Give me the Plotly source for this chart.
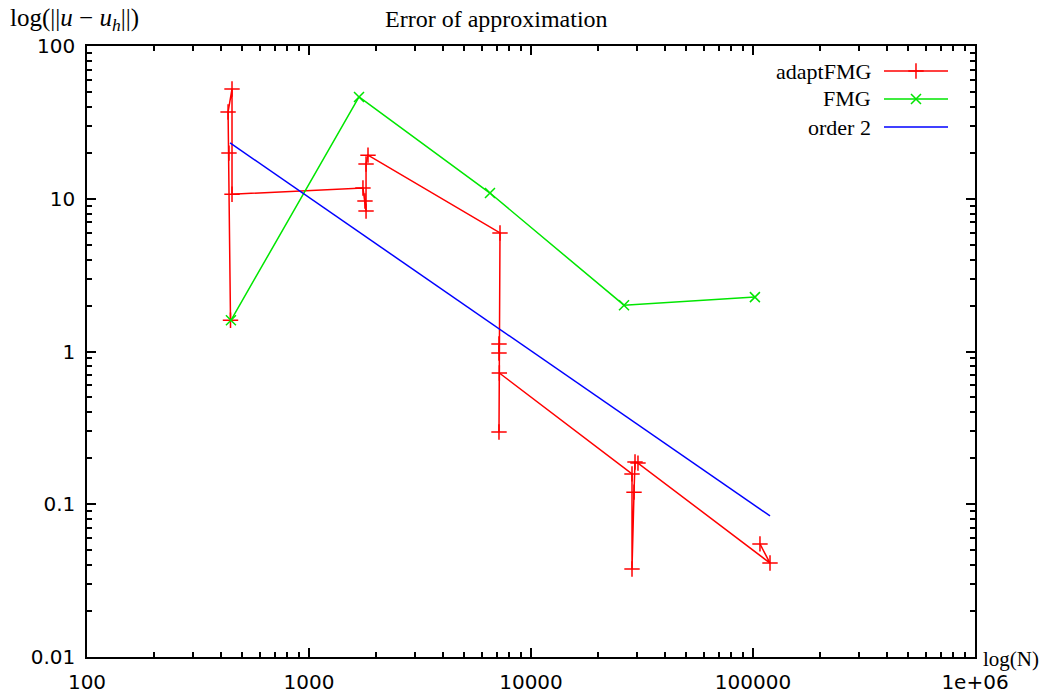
import plotly.graph_objects as go

# ---- data ----
adapt_N = [443, 436, 432, 450, 450, 1750, 1787, 1807, 1807, 1844,
           7250, 7175, 7175, 7175, 7200, 28510, 28510, 29110, 29410, 30330,
           119300, 107500]
adapt_err = [1.6, 19.9, 37.0, 52.3, 10.7, 11.75, 9.67, 8.3, 16.9, 19.3,
             5.97, 0.297, 1.12, 0.977, 0.723, 0.158, 0.0377, 0.120, 0.189, 0.186,
             0.0412, 0.055]
fmg_N = [445, 1680, 6535, 26240, 102000]
fmg_err = [1.6, 46.4, 10.9, 2.01, 2.27]
order2_N = [441, 119300]
order2_err = [23.2, 0.0838]

x_tickvals = [100, 1000, 10000, 100000, 1000000]
x_ticktext = ["100", "1000", "10000", "100000", "1e+06"]
y_tickvals = [0.01, 0.1, 1, 10, 100]
y_ticktext = ["0.01", "0.1", "1", "10", "100"]

series_names = ["adaptFMG", "FMG", "order 2"]

RED = "#ff0000"
GREEN = "#00e600"
BLUE = "#0000ff"
SERIF = "Liberation Serif"
SANS = "DejaVu Sans"

minor_x = [m * 10 ** e for e in range(2, 6) for m in range(2, 10)]
minor_y = [m * 10.0 ** e for e in range(-2, 2) for m in range(2, 10)]

fig = go.Figure()
fig.add_trace(go.Scatter(x=adapt_N, y=adapt_err, mode="lines+markers",
                         line=dict(color=RED, width=1.5),
                         marker=dict(symbol="cross-thin", size=11, line=dict(color=RED, width=1.5)),
                         showlegend=False))
fig.add_trace(go.Scatter(x=fmg_N, y=fmg_err, mode="lines+markers",
                         line=dict(color=GREEN, width=1.5),
                         marker=dict(symbol="x-thin", size=10, line=dict(color=GREEN, width=1.5)),
                         showlegend=False))
fig.add_trace(go.Scatter(x=order2_N, y=order2_err, mode="lines",
                         line=dict(color=BLUE, width=1.5), showlegend=False))

# legend samples drawn on an overlay axis (gnuplot-style key: text left, sample right)
leg_y = [0.959, 0.9133, 0.8674]
leg_x0, leg_x1 = 0.8975, 0.9696
styles = [(RED, "cross-thin", 11), (GREEN, "x-thin", 10), (BLUE, None, 0)]
for name, yy, (col, sym, sz) in zip(series_names, leg_y, styles):
    fig.add_trace(go.Scatter(x=[leg_x0, leg_x1], y=[yy, yy], mode="lines",
                             line=dict(color=col, width=1.5), xaxis="x2", yaxis="y2",
                             showlegend=False, hoverinfo="skip"))
    if sym:
        fig.add_trace(go.Scatter(x=[(leg_x0 + leg_x1) / 2], y=[yy], mode="markers",
                                 marker=dict(symbol=sym, size=sz, line=dict(color=col, width=1.5)),
                                 xaxis="x2", yaxis="y2", showlegend=False, hoverinfo="skip"))
    fig.add_annotation(x=0.885, y=yy, xref="paper", yref="paper", text=name,
                       showarrow=False, xanchor="right", yanchor="middle",
                       font=dict(family=SERIF, size=22, color="black"))

axis_common = dict(type="log", showgrid=False, zeroline=False, showline=True,
                   linecolor="black", linewidth=1.5, mirror="allticks",
                   ticks="inside", ticklen=9, tickwidth=1.5, tickcolor="black",
                   automargin=False,
                   tickfont=dict(family=SANS, size=20, color="black"))

# the page adds an 8px body margin, so the figure is sized/positioned to compensate
fig.update_layout(
    width=1039, height=689,
    margin=dict(l=79, r=72, t=38, b=40),
    plot_bgcolor="white", paper_bgcolor="white",
    xaxis=dict(range=[2, 6], tickvals=x_tickvals, ticktext=x_ticktext,
               ticklabelstandoff=6,
               minor=dict(ticks="inside", ticklen=5, tickwidth=1.5, tickcolor="black",
                          tickvals=minor_x, showgrid=False),
               **axis_common),
    yaxis=dict(range=[-2, 2], tickvals=y_tickvals, ticktext=y_ticktext,
               ticklabelstandoff=6,
               minor=dict(ticks="inside", ticklen=5, tickwidth=1.5, tickcolor="black",
                          tickvals=minor_y, showgrid=False),
               **axis_common),
    xaxis2=dict(range=[0, 1], overlaying="x", visible=False, fixedrange=True),
    yaxis2=dict(range=[0, 1], overlaying="y", visible=False, fixedrange=True),
    showlegend=False,
)

fig.add_annotation(x=0.4617, y=1.0, xref="paper", yref="paper", yshift=27,
                   text="Error of approximation", showarrow=False,
                   xanchor="center", yanchor="middle",
                   font=dict(family=SERIF, size=24, color="black"))
fig.add_annotation(x=-0.089, y=1.0, xref="paper", yref="paper", yshift=27,
                   text="log(||<i>u</i> − <i>u</i><sub><i>h</i></sub>||)", showarrow=False,
                   xanchor="left", yanchor="middle",
                   font=dict(family=SERIF, size=25, color="black"))
fig.add_annotation(x=1.007, y=0.0, xref="paper", yref="paper", yshift=-2,
                   text="log(N)", showarrow=False,
                   xanchor="left", yanchor="middle",
                   font=dict(family=SERIF, size=21, color="black"))

fig.write_html("out.html")
